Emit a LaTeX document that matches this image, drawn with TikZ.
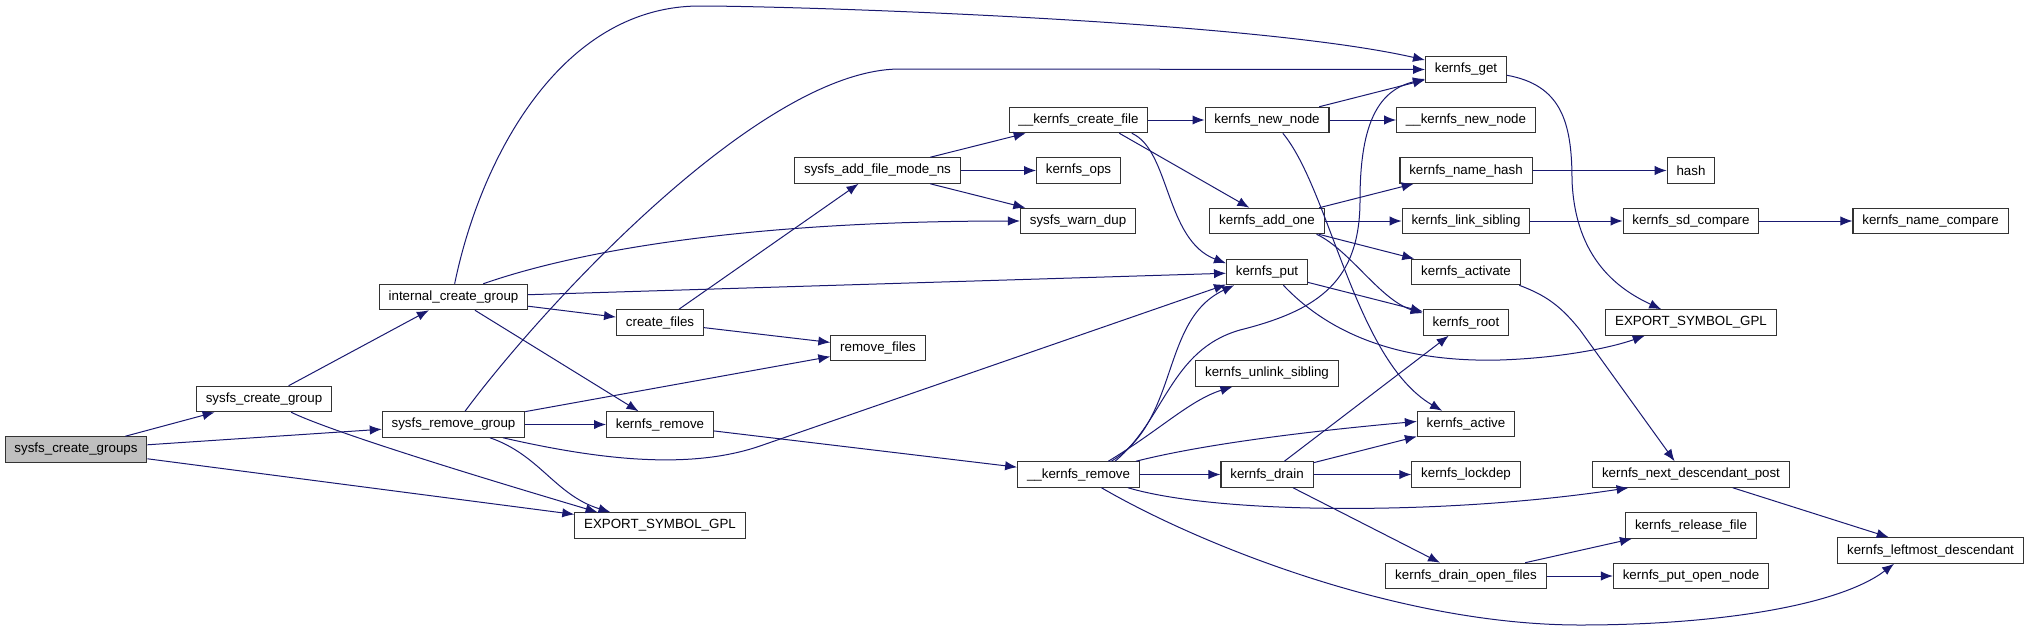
\documentclass[tikz,border=0pt]{standalone}
\usepackage{fontspec}
\setmainfont{Liberation Sans}
\usepackage{xcolor}
\usetikzlibrary{arrows.meta,calc}
\definecolor{edgeblue}{RGB}{25,25,112}

\begin{document}
\begin{tikzpicture}[x=0.75pt,y=-0.75pt,
  fn/.style={draw=black!80,line width=0.8pt,fill=white,font=\fontsize{10}{12}\selectfont,
             inner xsep=7pt,inner ysep=0pt,minimum height=19.1pt},
  rootfn/.style={fn,fill=black!25},
  callarr/.style={edgeblue,line width=0.75pt,-{Latex[length=9pt,width=7pt]}}]
\useasboundingbox (0,0) rectangle (2029,632);
% call graph boxes: name / x / y / label (pixel grid, y downwards)
\node[rootfn] (grps) at (76,449.5) {sysfs\_create\_groups};
\foreach \nm/\px/\py/\txt in {cgrp/264/399/sysfs\_create\_group,
    rgrp/453.5/424.5/sysfs\_remove\_group, intl/453.5/297/internal\_create\_group,
    cfiles/660/322.5/create\_files, krem/660/424.5/kernfs\_remove,
    expL/660/525.5/EXPORT\_SYMBOL\_GPL, addf/877.5/170.5/sysfs\_add\_file\_mode\_ns,
    rfiles/878/348/remove\_files, kcf/1078.5/120/\_\_kernfs\_create\_file,
    kops/1078.5/170.5/kernfs\_ops, wdup/1078/221/sysfs\_warn\_dup,
    ukrem/1078.5/474.5/\_\_kernfs\_remove, knew/1267/120/kernfs\_new\_node,
    kadd/1267/221/kernfs\_add\_one, kput/1267/272/kernfs\_put,
    kunl/1267/373.5/kernfs\_unlink\_sibling, kdrain/1267/474.5/kernfs\_drain,
    kget/1466/69.5/kernfs\_get, unew/1466/120/\_\_kernfs\_new\_node,
    khash/1466/170.5/kernfs\_name\_hash, klink/1466/221/kernfs\_link\_sibling,
    kact/1466/272/kernfs\_activate, kroot/1466/322.5/kernfs\_root,
    kactive/1466/424/kernfs\_active, klock/1466/474.5/kernfs\_lockdep,
    kdof/1466/576/kernfs\_drain\_open\_files, hsh/1691/170.5/hash,
    ksd/1691/221/kernfs\_sd\_compare, expR/1691/322.5/EXPORT\_SYMBOL\_GPL,
    knext/1691/474.5/kernfs\_next\_descendant\_post, krel/1691/525.5/kernfs\_release\_file,
    kpon/1691/576/kernfs\_put\_open\_node, kncmp/1930.5/221/kernfs\_name\_compare,
    kleft/1930.5/550.5/kernfs\_leftmost\_descendant}{
  \node[fn] (\nm) at (\px,\py) {\txt};
}
% straight calls
\foreach \a/\b in {grps/cgrp, grps/rgrp, grps/expL, cgrp/intl, rgrp/rfiles, rgrp/krem,
    intl/kput, intl/cfiles, intl/krem, cfiles/addf, cfiles/rfiles, addf/kcf, addf/kops,
    addf/wdup, kcf/knew, knew/kget, knew/unew, kadd/khash, kadd/klink, kadd/kact,
    kput/kroot, khash/hsh, klink/ksd, ksd/kncmp, knext/kleft, krem/ukrem, ukrem/kdrain,
    kdrain/kroot, kdrain/kactive, kdrain/klock, kdrain/kdof, kdof/krel, kdof/kpon}{
  \draw[callarr] (\a) -- (\b);
}
\draw[callarr] (kcf.-18) -- (kadd.143);
% curved calls
\draw[callarr] (cgrp.-26) .. controls (340,436) and (540,495) .. (expL.168);
\draw[callarr] (rgrp.49) .. controls (540,310) and (760,69) .. (900,69) -- (kget.west);
\draw[callarr] (rgrp.-15) .. controls (600,460) and (690,470) .. (760,446) -- (kput.197);
\draw[callarr] (rgrp.-20) .. controls (540,455) and (555,495) .. (expL.165);
\draw[callarr] (intl.85) .. controls (480,160) and (560,6) .. (700,6)
  .. controls (790,6) and (1250,20) .. (kget.167);
\draw[callarr] (intl.24) .. controls (580,250) and (750,221) .. (wdup.west);
\draw[callarr] (kcf.-14) .. controls (1170,150) and (1165,240) .. (kput.168);
\draw[callarr] (knew.-40) .. controls (1330,190) and (1355,360) .. (kactive.151);
\draw[callarr] (kadd.-15) .. controls (1350,250) and (1380,300) .. (kroot.168);
\draw[callarr] (kput.-39) .. controls (1340,345) and (1420,362) .. (1500,360)
  .. controls (1560,358) and (1610,348) .. (expR.196);
\draw[callarr] (kget.-8) .. controls (1560,85) and (1572,120) .. (1572,180)
  .. controls (1575,260) and (1620,290) .. (expR.156);
\draw[callarr] (kact.-14) .. controls (1545,295) and (1560,305) .. (1580,330) -- (knext.141);
\draw[callarr] (ukrem.20) .. controls (1165,420) and (1170,350) .. (1240,330)
  .. controls (1320,310) and (1360,280) .. (1360,200)
  .. controls (1360,120) and (1380,90) .. (kget.193);
\draw[callarr] (ukrem.22) .. controls (1180,420) and (1160,320) .. (kput.202);
\draw[callarr] (ukrem.24) .. controls (1160,430) and (1190,400) .. (kunl.201);
\draw[callarr] (ukrem.13) .. controls (1200,445) and (1300,432) .. (kactive.177);
\draw[callarr] (ukrem.-15) .. controls (1220,515) and (1450,515) .. (knext.192);
\draw[callarr] (ukrem.-30) .. controls (1200,545) and (1400,625) .. (1580,625)
  .. controls (1720,625) and (1840,605) .. (kleft.200);
\end{tikzpicture}
\end{document}
